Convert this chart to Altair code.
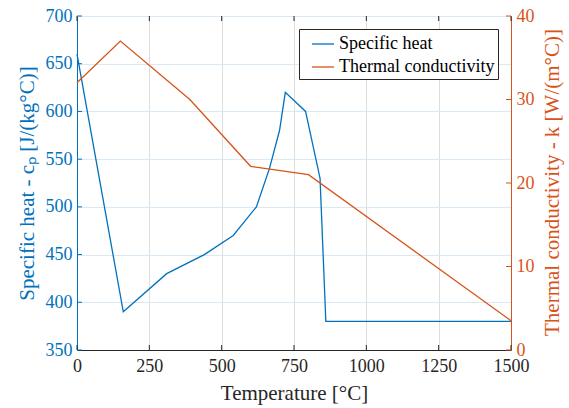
import altair as alt
import pandas as pd

# Specific heat (left axis)
temp_cp = [0, 160, 310, 440, 540, 620, 665, 700, 720, 790, 840, 860, 1500]
cp_vals = [660, 390, 430, 450, 470, 500, 540, 580, 620, 600, 530, 380, 380]

# Thermal conductivity (right axis)
temp_k = [0, 150, 390, 600, 800, 1500]
k_vals = [32, 37, 30, 22, 21, 3.5]

x_ticks = [0, 250, 500, 750, 1000, 1250, 1500]
cp_ticks = [350, 400, 450, 500, 550, 600, 650, 700]
k_ticks = [0, 10, 20, 30, 40]

series_names = ["Specific heat", "Thermal conductivity"]
BLUE = "#0072BD"
ORANGE = "#D95319"
DARK = "#262626"
FONT = "Liberation Serif, Times New Roman, Times, serif"
W, H = 434, 334

df_cp = pd.DataFrame({"T": temp_cp, "cp": cp_vals, "series": series_names[0]})
df_k = pd.DataFrame({"T": temp_k, "k": k_vals, "series": series_names[1]})
df_xt = pd.DataFrame({"T": x_ticks})
df_cpt = pd.DataFrame({"cp": cp_ticks})
df_kt = pd.DataFrame({"k": k_ticks})


def xenc():
    return alt.X(
        "T:Q",
        scale=alt.Scale(domain=[0, 1500], nice=False, zero=False),
        axis=alt.Axis(
            values=x_ticks, title="Temperature [°C]", format="d",
            grid=True, gridColor="#dedede", gridWidth=1,
            ticks=False, labelPadding=7,
            labelColor=DARK, domainColor=DARK, domainWidth=1,
            titleColor=DARK, titleY=49, titleBaseline="alphabetic",
            labelFlush=False,
        ),
    )


def cpenc():
    return alt.Y(
        "cp:Q",
        scale=alt.Scale(domain=[350, 700], nice=False, zero=False),
        axis=alt.Axis(
            orient="left", values=cp_ticks, title="Specific heat - cₚ [J/(kg°C)]",
            grid=True, gridColor="#d9eaf5", gridWidth=1,
            ticks=False, labelPadding=5,
            labelColor=BLUE, domainColor=BLUE, domainWidth=1,
            titleColor=BLUE, titleAngle=270, titleX=-50, titleY=167,
            titleAlign="center", titleBaseline="middle",
        ),
    )


def kenc():
    return alt.Y(
        "k:Q",
        scale=alt.Scale(domain=[0, 40], nice=False, zero=False),
        axis=alt.Axis(
            orient="right", values=k_ticks, title="Thermal conductivity - k [W/(m°C)]",
            grid=False, ticks=False, labelPadding=5,
            labelColor=ORANGE, domainColor=ORANGE, domainWidth=1,
            titleColor=ORANGE, titleAngle=270, titleX=41, titleY=166,
            titleAlign="center", titleBaseline="middle",
        ),
    )


color = alt.Color(
    "series:N",
    scale=alt.Scale(domain=series_names, range=[BLUE, ORANGE]),
    legend=alt.Legend(
        title=None, orient="top-right", offset=13,
        fillColor="white", strokeColor=DARK, padding=3,
        symbolType="stroke", symbolSize=484, symbolStrokeWidth=1.3,
        symbolOffset=9, labelOffset=4, rowPadding=2, labelLimit=400,
        labelColor="black",
    ),
)

cp_line = alt.Chart(df_cp).mark_line(strokeWidth=1.3).encode(
    x=xenc(), y=cpenc(), color=color
)
cp_ticks_layer = alt.Chart(df_cpt).mark_rule(color=BLUE, strokeWidth=1).encode(
    y=cpenc(), x=alt.value(0), x2=alt.value(5)
)
k_line = alt.Chart(df_k).mark_line(strokeWidth=1.3).encode(
    x=xenc(), y=kenc(), color=color
)
k_ticks_layer = alt.Chart(df_kt).mark_rule(color=ORANGE, strokeWidth=1).encode(
    y=kenc(), x=alt.value(W - 5), x2=alt.value(W)
)
xt_bottom = alt.Chart(df_xt).mark_rule(color=DARK, strokeWidth=1).encode(
    x=xenc(), y=alt.value(H - 5), y2=alt.value(H)
)
xt_top = alt.Chart(df_xt).mark_rule(color=DARK, strokeWidth=1).encode(
    x=xenc(), y=alt.value(0), y2=alt.value(5)
)

left = alt.layer(cp_line, cp_ticks_layer)
right = alt.layer(k_line, k_ticks_layer)

chart = (
    alt.layer(xt_bottom, xt_top, left, right)
    .resolve_scale(y="independent")
    .properties(
        width=W, height=H,
        autosize=alt.AutoSizeParams(type="none"),
        padding={"left": 77, "top": 16, "right": 58, "bottom": 58},
        background="white",
    )
    .configure_view(stroke=DARK, strokeWidth=1)
    .configure_axis(
        labelFont=FONT, labelFontSize=18,
        titleFont=FONT, titleFontSize=21, titleFontWeight="normal",
    )
    .configure_legend(labelFont=FONT, labelFontSize=18)
)

chart.save("out.html", embed_options={"renderer": "svg", "actions": False})
